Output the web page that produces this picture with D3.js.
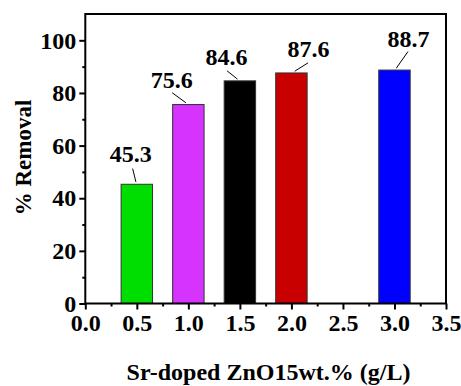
<!DOCTYPE html>
<html><head><meta charset="utf-8">
<script src="https://cdn.jsdelivr.net/npm/d3@7"></script>
<style>body{margin:0;background:#fff}</style></head>
<body><svg id="chart" width="461" height="386" font-family="Times New Roman" font-weight="bold"></svg>
<script>
const doses = [0.5, 1.0, 1.5, 2.0, 3.0];
const removal = [45.3, 75.6, 84.6, 87.6, 88.7];
const barColors = ["#00dd00", "#d633ff", "#000000", "#c80000", "#0000ff"];
const xTicks = [0, 0.5, 1, 1.5, 2, 2.5, 3, 3.5];
const xMinor = [0.25, 0.75, 1.25, 1.75, 2.25, 2.75, 3.25];
const yTicks = [0, 20, 40, 60, 80, 100];
const yMinor = [10, 30, 50, 70, 90];
const xTitle = "Sr-doped ZnO15wt.% (g/L)";
const yTitle = "% Removal";
// annotation placement: pixel offsets from each bar's top-centre
const labelOffsets = [[-6,-22],[-16.5,-16.8],[-13.4,-15.7],[17.1,-15.7],[14,-22.8]];
const leaderFrom = [[-4.2,-15.7],[-16.2,-11.8],[-12.8,-10],[16.6,-10.1],[13.5,-18.5]];
const leaderTo = [[-0.9,-2.3],[-2.5,-1.8],[-2.4,-1.7],[3.3,-1.7],[1.8,-1.8]];

function styleText(sel, px) {
  sel.attr("font-family", "Times New Roman")
     .attr("font-weight", "bold")
     .attr("font-size", px)
     .attr("fill", "#000");
}

const svg = d3.select("#chart");
const L = 85.3, R = 446, T = 14, B = 303.5;
const x = d3.scaleLinear().domain([0, 3.5]).range([L, R]);
const y = d3.scaleLinear().domain([0, 110]).range([B, T]);
const bw = x(0.305) - x(0);

// bars
svg.append("g").selectAll("rect").data(doses).join("rect")
  .attr("x", (d) => x(d) - bw/2)
  .attr("y", (d,i) => y(removal[i]))
  .attr("width", bw)
  .attr("height", (d,i) => y(0) - y(removal[i]))
  .attr("fill", (d,i) => barColors[i])
  .attr("stroke", "#333").attr("stroke-width", 1);

// axes
const gx = svg.append("g").attr("transform", `translate(0,${B})`)
  .call(d3.axisBottom(x).tickValues(xTicks).tickSize(6).tickPadding(4).tickFormat(d3.format(".1f")));
const gxm = svg.append("g").attr("transform", `translate(0,${B})`)
  .call(d3.axisBottom(x).tickValues(xMinor).tickSize(3).tickFormat(""));
const gy = svg.append("g").attr("transform", `translate(${L},0)`)
  .call(d3.axisLeft(y).tickValues(yTicks).tickSize(6).tickPadding(3));
const gym = svg.append("g").attr("transform", `translate(${L},0)`)
  .call(d3.axisLeft(y).tickValues(yMinor).tickSize(3).tickFormat(""));
[gx, gxm, gy, gym].forEach(g => {
  g.attr("font-family", "Times New Roman").attr("font-size", 24).attr("font-weight", "bold");
  g.select(".domain").remove();
  g.selectAll(".tick line").attr("stroke", "#000").attr("stroke-width", 2);
  styleText(g.selectAll("text"), 24);
});

// frame
svg.append("rect").attr("x", L).attr("y", T).attr("width", R - L).attr("height", B - T)
  .attr("fill", "none").attr("stroke", "#000").attr("stroke-width", 2);

// value labels + leader lines
const ann = svg.append("g");
doses.forEach((d, i) => {
  const cx = x(d), cy = y(removal[i]);
  ann.append("line")
    .attr("x1", cx + leaderFrom[i][0]).attr("y1", cy + leaderFrom[i][1])
    .attr("x2", cx + leaderTo[i][0]).attr("y2", cy + leaderTo[i][1])
    .attr("stroke", "#000").attr("stroke-width", 1);
  const t = ann.append("text")
    .attr("x", cx + labelOffsets[i][0]).attr("y", cy + labelOffsets[i][1])
    .attr("text-anchor", "middle")
    .text(removal[i].toFixed(1));
  styleText(t, 24);
});

// titles
styleText(svg.append("text").attr("x", 268.5).attr("y", 380).attr("text-anchor", "middle").text(xTitle), 24);
styleText(svg.append("text").attr("transform", "translate(31,157.5) rotate(-90)")
  .attr("text-anchor", "middle").text(yTitle), 23);
</script></body></html>
